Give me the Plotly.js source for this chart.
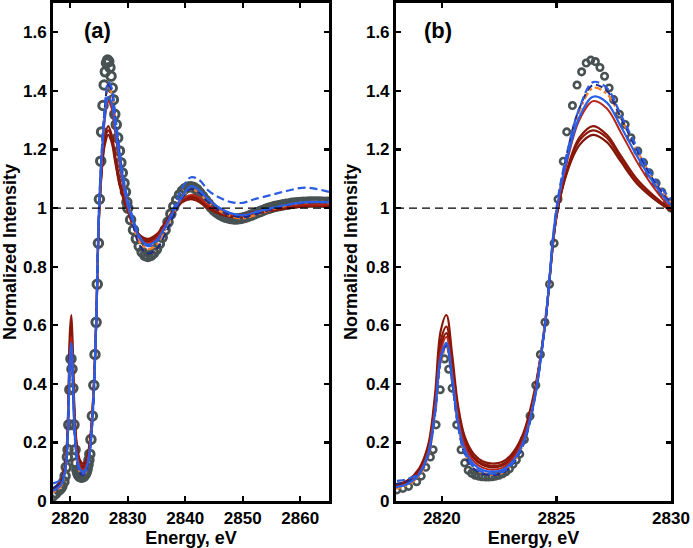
<!DOCTYPE html>
<html>
<head>
<meta charset="utf-8">
<script src="https://cdn.plot.ly/plotly-3.0.1.min.js"></script>
<style>html,body{margin:0;padding:0;background:#fff;}#chart{width:693px;height:548px;}</style>
</head>
<body>
<div id="chart"></div>
<script>
// Experimental spectrum (gray open circles)
var expEnergy = [2817.0,2817.5,2818.04,2818.3,2818.55,2818.9,2819.1,2819.3,2819.5,2819.62,2819.75,2819.93,2820.12,2820.3,2820.45,2820.65,2820.84,2821.0,2821.15,2821.3,2821.45,2821.6,2821.75,2821.9,2822.05,2822.2,2822.35,2822.5,2822.65,2822.8,2822.95,2823.1,2823.25,2823.4,2823.6,2823.85,2824.1,2824.3,2824.5,2824.7,2824.9,2825.07,2825.3,2825.45,2825.7,2825.9,2826.1,2826.3,2826.5,2826.7,2826.9,2827.1,2827.3,2827.5,2827.75,2828.0,2828.25,2828.55,2828.8,2829.05,2829.35,2829.6,2829.85,
2830.0,2830.5,2831.0,2831.5,2832.0,2832.5,2833.0,2833.5,2834.0,2834.5,2835.0,2835.5,2836.0,2836.5,2837.0,2837.5,2838.0,2838.5,2839.0,2839.5,2840.0,2840.5,2841.0,2841.5,2842.0,2842.5,2843.0,2843.5,2844.0,2844.5,2845.0,2845.5,2846.0,2846.5,2847.0,2847.5,2848.0,2848.5,2849.0,2849.5,2850.0,2850.5,2851.0,2851.5,2852.0,2852.5,2853.0,2853.5,2854.0,2854.5,2855.0,2855.5,2856.0,2856.5,2857.0,2857.5,2858.0,2858.5,2859.0,2859.5,2860.0,2860.5,2861.0,2861.5,2862.0,2862.5,2863.0,2863.5,2864.0,2864.5,2865.0];
var expIntensity = [0.018,0.027,0.038,0.043,0.05,0.066,0.085,0.115,0.15,0.175,0.26,0.38,0.485,0.45,0.385,0.26,0.175,0.13,0.105,0.095,0.088,0.085,0.083,0.082,0.082,0.083,0.085,0.088,0.093,0.1,0.11,0.125,0.14,0.16,0.21,0.29,0.395,0.5,0.61,0.74,0.88,1.03,1.16,1.26,1.35,1.42,1.465,1.495,1.505,1.5,1.48,1.45,1.41,1.37,1.32,1.285,1.24,1.195,1.155,1.12,1.085,1.055,1.02,
1.0,0.96,0.925,0.895,0.87,0.85,0.838,0.835,0.838,0.847,0.86,0.878,0.9,0.925,0.952,0.98,1.005,1.027,1.045,1.058,1.067,1.072,1.073,1.07,1.063,1.052,1.04,1.027,1.015,1.003,0.993,0.985,0.978,0.973,0.969,0.966,0.964,0.963,0.963,0.964,0.966,0.969,0.972,0.976,0.98,0.984,0.988,0.992,0.996,0.999,1.002,1.005,1.007,1.009,1.011,1.013,1.014,1.016,1.017,1.018,1.019,1.02,1.02,1.021,1.021,1.021,1.021,1.021,1.02,1.02,1.02];

// Calculated spectra, common energy grid
var modelEnergy = [2817,2817.5,2818,2818.5,2819,2819.4,2819.7,2819.95,2820.2,2820.45,2820.7,2821,2821.4,2821.8,2822.2,2822.6,2823,2823.5,2824,2824.5,2825,2825.5,2826,2826.6,2827.2,2827.8,2828.5,2829.2,2830,2831,2832,2833.5,2835,2836.5,2838,2839.5,2841,2842.5,2844,2846,2848,2850,2852,2855,2858,2861,2865];

var darkRed1 = [0.04,0.045,0.055,0.07,0.11,0.19,0.36,0.58,0.635,0.5,0.33,0.22,0.16,0.135,0.128,0.132,0.155,0.22,0.36,0.6,0.97,1.14,1.24,1.28,1.25,1.18,1.1,1.045,0.995,0.945,0.91,0.895,0.91,0.95,0.995,1.03,1.04,1.03,1.005,0.985,0.975,0.975,0.985,0.995,1.005,1.01,1.01];
var darkRed2 = [0.038,0.043,0.052,0.066,0.105,0.18,0.34,0.545,0.595,0.47,0.31,0.21,0.15,0.127,0.12,0.124,0.147,0.21,0.35,0.6,0.97,1.135,1.23,1.265,1.24,1.17,1.09,1.04,0.993,0.94,0.905,0.89,0.905,0.945,0.99,1.025,1.035,1.025,1.0,0.982,0.972,0.972,0.982,0.993,1.003,1.008,1.008];
var darkRed3 = [0.036,0.041,0.05,0.064,0.1,0.175,0.33,0.525,0.573,0.455,0.3,0.2,0.145,0.122,0.115,0.12,0.142,0.205,0.345,0.6,0.97,1.13,1.215,1.25,1.225,1.16,1.085,1.035,0.99,0.935,0.9,0.885,0.9,0.94,0.985,1.02,1.03,1.02,0.998,0.98,0.97,0.97,0.98,0.99,1.0,1.006,1.006];
var red4 = [0.035,0.04,0.048,0.06,0.095,0.17,0.32,0.51,0.56,0.44,0.29,0.19,0.135,0.113,0.107,0.112,0.135,0.2,0.34,0.6,0.98,1.17,1.3,1.365,1.34,1.26,1.16,1.075,1.0,0.94,0.895,0.88,0.895,0.94,0.99,1.03,1.045,1.035,1.01,0.99,0.977,0.975,0.985,0.997,1.007,1.012,1.012];
var blueSolid = [0.035,0.04,0.047,0.058,0.09,0.16,0.3,0.49,0.54,0.42,0.27,0.175,0.125,0.105,0.1,0.105,0.127,0.19,0.33,0.6,0.99,1.18,1.31,1.38,1.36,1.28,1.18,1.09,1.01,0.95,0.9,0.875,0.89,0.935,0.99,1.04,1.075,1.06,1.03,1.0,0.982,0.975,0.985,1.0,1.012,1.02,1.02];
var blueDashed = [0.06,0.063,0.068,0.075,0.095,0.16,0.3,0.48,0.535,0.41,0.26,0.165,0.115,0.098,0.093,0.098,0.12,0.185,0.33,0.6,1.0,1.2,1.34,1.43,1.41,1.32,1.21,1.11,1.03,0.96,0.905,0.87,0.885,0.935,1.0,1.07,1.105,1.095,1.06,1.035,1.02,1.018,1.03,1.045,1.06,1.07,1.055];
var orangeDashDot = [0.03,0.035,0.042,0.055,0.085,0.15,0.29,0.47,0.525,0.41,0.265,0.165,0.115,0.095,0.09,0.095,0.12,0.185,0.33,0.61,0.99,1.19,1.33,1.41,1.39,1.31,1.2,1.1,1.02,0.94,0.885,0.86,0.875,0.925,0.985,1.04,1.065,1.05,1.02,0.99,0.972,0.965,0.975,0.995,1.01,1.02,1.02];
var navyDashed = [0.045,0.05,0.058,0.067,0.09,0.155,0.295,0.48,0.53,0.405,0.26,0.16,0.11,0.093,0.088,0.094,0.117,0.18,0.325,0.6,0.99,1.2,1.34,1.42,1.4,1.31,1.2,1.1,1.015,0.935,0.875,0.845,0.86,0.91,0.975,1.035,1.065,1.05,1.02,0.99,0.975,0.968,0.978,0.995,1.01,1.018,1.02];

var xTicksA = [2820,2830,2840,2850,2860];
var xTicksB = [2820,2825,2830];
var yTicks = [0,0.2,0.4,0.6,0.8,1,1.2,1.4,1.6];

var models = [
  {y: darkRed3, color: '#7e1508', dash: 'solid', width: 2.2},
  {y: darkRed2, color: '#8f1a0a', dash: 'solid', width: 2.2},
  {y: darkRed1, color: '#8a1608', dash: 'solid', width: 2.2},
  {y: red4, color: '#b8261a', dash: 'solid', width: 2},
  {y: orangeDashDot, color: '#f5802a', dash: '3px,3px,7px,3px', width: 2.4},
  {y: navyDashed, color: '#1c2a8a', dash: '7px,4px', width: 2},
  {y: blueSolid, color: '#2a5fe8', dash: 'solid', width: 2.2},
  {y: blueDashed, color: '#2a5be0', dash: '8px,4px', width: 2.2}
];

var traces = [];
[['x','y',8.5,3],['x2','y2',6.5,2.6]].forEach(function(ax){
  traces.push({
    x: expEnergy, y: expIntensity, xaxis: ax[0], yaxis: ax[1],
    type: 'scatter', mode: 'markers', showlegend: false, hoverinfo: 'skip',
    marker: {symbol: 'circle-open', size: ax[2], color: '#485252', line: {width: ax[3], color: '#485252'}}
  });
  models.forEach(function(m){
    traces.push({
      x: modelEnergy, y: m.y, xaxis: ax[0], yaxis: ax[1],
      type: 'scatter', mode: 'lines', showlegend: false, hoverinfo: 'skip',
      line: {color: m.color, width: m.width, dash: m.dash, shape: 'spline', smoothing: 1}
    });
  });
});

var FONT = 'Liberation Sans, Arial, Helvetica, sans-serif';
function xaxisDef(domain, range, ticks){
  return {
    domain: domain, range: range, tickvals: ticks, ticks: 'inside', ticklen: 5, tickwidth: 2.2,
    tickcolor: '#000', showline: true, linewidth: 3, linecolor: '#000', mirror: 'ticks',
    showgrid: false, zeroline: false,
    tickfont: {family: FONT, size: 17, weight: 'bold', color: '#000'},
    title: {text: 'Energy, eV', font: {family: FONT, size: 18, weight: 'bold', color: '#000'}, standoff: 4}
  };
}
function yaxisDef(anchor){
  return {
    domain: [0,1], range: [0,1.7], tickvals: yTicks, anchor: anchor, ticks: 'inside', ticklen: 5, tickwidth: 2.2,
    tickcolor: '#000', showline: true, linewidth: 3, linecolor: '#000', mirror: 'ticks',
    showgrid: false, zeroline: false,
    tickfont: {family: FONT, size: 17, weight: 'bold', color: '#000'},
    title: {text: 'Normalized Intensity', font: {family: FONT, size: 18, weight: 'bold', color: '#000'}, standoff: 4}
  };
}

var xa = xaxisDef([0, 0.4466], [2817, 2865], xTicksA); xa.anchor = 'y';
var xb = xaxisDef([0.555, 1], [2818, 2830], xTicksB); xb.anchor = 'y2';

var layout = {
  width: 693, height: 548,
  margin: {l: 53, r: 22, t: 3, b: 47},
  paper_bgcolor: '#fff', plot_bgcolor: '#fff',
  showlegend: false,
  xaxis: xa, yaxis: yaxisDef('x'),
  xaxis2: xb, yaxis2: yaxisDef('x2'),
  shapes: [
    {type: 'line', xref: 'x domain', yref: 'y', x0: 0, x1: 1, y0: 1, y1: 1, line: {color: '#000', width: 1.2, dash: '8px,5px'}},
    {type: 'line', xref: 'x2 domain', yref: 'y2', x0: 0, x1: 1, y0: 1, y1: 1, line: {color: '#000', width: 1.2, dash: '8px,5px'}}
  ],
  annotations: [
    {text: '(a)', xref: 'x domain', yref: 'y domain', x: 0.105, y: 0.945, xanchor: 'left', yanchor: 'middle', showarrow: false, font: {family: FONT, size: 22, weight: 'bold', color: '#000'}},
    {text: '(b)', xref: 'x2 domain', yref: 'y2 domain', x: 0.095, y: 0.945, xanchor: 'left', yanchor: 'middle', showarrow: false, font: {family: FONT, size: 22, weight: 'bold', color: '#000'}}
  ]
};

Plotly.newPlot('chart', traces, layout, {displayModeBar: false, staticPlot: true});
</script>
</body>
</html>
